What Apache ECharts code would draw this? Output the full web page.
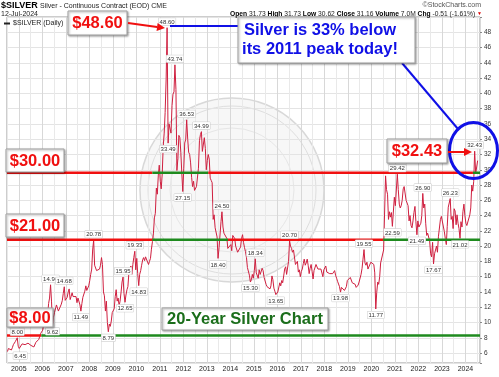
<!DOCTYPE html>
<html>
<head>
<meta charset="utf-8">
<script src="https://cdn.jsdelivr.net/npm/echarts@6/dist/echarts.min.js"></script>
<style>
html, body { margin: 0; padding: 0; background: #fff; }
#main { width: 499px; height: 377px; }
</style>
</head>
<body>
<div id="main"></div>
<script>
// silver closes, two per month (around the 8th and the 23rd), Jul 2004 .. Jul 2024
var halfMonthCloses = [
    // 2004 Jul-Dec
    6.2, 6.6, 6.7, 6.8, 6.4, 6.7, 7.1, 7.3, 7.5, 7.6, 8.0, 6.9,
    // 2005
    6.6, 6.45, 6.8, 7.2, 7.4, 7.2, 7.1, 6.9, 7.1, 7.3, 7.4, 7.1, 7.0, 7.2, 6.9, 6.8, 7.0, 7.4, 7.6, 7.6, 7.8, 8.2, 8.6, 8.8,
    // 2006
    9.0, 9.7, 9.6, 9.5, 10.2, 10.9, 12.5, 13.2, 14.94, 12.8, 9.62, 10.7, 11.3, 11.2, 12.3, 12.3, 11.5, 11.4, 11.6, 12.4, 12.9, 13.8, 14.68, 12.9,
    // 2007
    12.9, 13.3, 14.0, 14.4, 13.0, 13.4, 13.9, 13.4, 13.2, 13.2, 13.4, 12.6, 13.2, 13.0, 12.3, 11.49, 12.5, 13.3, 13.5, 14.1, 14.8, 14.2, 14.3, 14.8,
    // 2008
    15.5, 16.3, 17.0, 19.5, 20.78, 17.5, 17.5, 16.8, 16.6, 16.8, 17.0, 17.5, 18.5, 17.6, 14.0, 13.5, 11.5, 12.8, 10.0, 8.79, 9.8, 9.5, 10.2, 11.3,
    // 2009
    11.2, 11.8, 13.4, 14.3, 12.8, 13.2, 12.2, 12.8, 14.0, 15.3, 15.95, 13.8, 12.65, 13.6, 14.3, 14.7, 16.6, 16.8, 17.4, 16.3, 17.6, 18.5, 19.33, 16.9,
    // 2010
    18.4, 16.4, 14.83, 16.3, 16.8, 17.5, 18.2, 18.5, 18.1, 18.6, 18.5, 18.7, 17.6, 18.0, 18.4, 19.6, 20.6, 21.6, 23.7, 24.3, 27.6, 26.8, 29.3, 30.6,
    // 2011
    28.5, 27.5, 29.5, 33.0, 34.8, 37.5, 41.9, 48.6, 33.49, 36.0, 35.8, 34.8, 38.4, 39.9, 40.2, 43.74, 40.5, 29.9, 31.5, 34.5, 34.2, 32.3, 29.5, 27.15,
    // 2012
    30.2, 33.5, 34.0, 36.53, 34.0, 32.3, 32.0, 30.9, 29.0, 27.8, 28.5, 27.3, 27.5, 27.8, 27.8, 30.2, 33.8, 34.6, 34.99, 32.4, 32.4, 34.2, 32.8, 30.0,
    // 2013
    31.2, 32.0, 31.4, 28.9, 28.6, 28.3, 23.5, 24.1, 22.4, 22.3, 21.2, 18.4, 19.8, 19.6, 23.2, 24.5, 22.5, 21.7, 21.9, 21.9, 21.0, 19.7, 19.5, 19.6,
    // 2014
    20.2, 19.4, 21.4, 21.4, 21.0, 20.0, 19.8, 19.2, 19.1, 19.0, 19.9, 21.0, 21.5, 20.5, 19.8, 19.3, 18.5, 17.2, 17.3, 16.2, 15.3, 15.6, 16.3, 15.8,
    // 2015
    16.8, 18.34, 16.5, 16.6, 15.8, 16.9, 16.3, 16.2, 17.1, 16.8, 15.9, 15.7, 15.0, 14.7, 14.8, 14.6, 14.4, 14.8, 16.1, 15.6, 14.5, 14.1, 13.65, 13.8,
    // 2016
    14.0, 14.2, 15.2, 14.8, 15.5, 15.2, 16.1, 17.0, 17.3, 16.3, 16.2, 18.0, 20.7, 20.0, 19.7, 19.2, 19.5, 19.3, 17.6, 17.6, 18.0, 16.6, 16.9, 16.0,
    // 2017
    16.7, 17.0, 17.7, 18.3, 17.5, 17.8, 18.3, 17.5, 16.4, 17.1, 17.6, 16.7, 15.7, 16.8, 16.9, 17.6, 17.6, 17.0, 17.2, 16.8, 17.0, 17.0, 16.0, 16.9,
    // 2018
    17.0, 17.4, 16.6, 16.5, 16.6, 16.4, 16.5, 16.6, 16.4, 16.4, 16.8, 16.2, 15.8, 15.4, 15.2, 14.7, 13.98, 14.6, 14.6, 14.6, 14.2, 14.3, 14.7, 15.5,
    // 2019
    15.6, 15.7, 15.9, 15.8, 15.2, 15.2, 15.0, 15.0, 14.6, 14.4, 14.9, 15.3, 15.3, 16.3, 17.1, 18.3, 19.55, 17.8, 17.5, 17.9, 17.0, 16.9, 17.0, 17.9,
    // 2020
    18.1, 18.0, 17.6, 16.5, 11.77, 13.9, 15.3, 15.0, 16.0, 17.8, 17.8, 18.0, 19.5, 24.2, 29.2, 27.4, 26.8, 23.5, 24.5, 23.8, 24.4, 22.59, 24.6, 26.4,
    // 2021
    25.3, 25.5, 29.42, 27.4, 25.5, 25.0, 25.3, 26.0, 27.5, 27.8, 27.6, 26.0, 26.0, 25.3, 23.3, 24.0, 22.7, 22.4, 23.3, 24.4, 25.2, 23.2, 21.49, 23.3,
    // 2022
    22.5, 22.6, 23.0, 24.0, 26.9, 25.0, 25.5, 23.0, 21.4, 21.7, 21.6, 20.7, 19.0, 18.6, 20.5, 17.67, 19.0, 18.9, 20.0, 19.2, 21.3, 21.3, 23.5, 23.9,
    // 2023
    23.9, 23.7, 21.9, 21.0, 20.2, 22.6, 25.1, 25.1, 26.23, 23.5, 23.9, 22.3, 24.9, 24.6, 22.8, 24.1, 23.0, 22.3, 21.02, 23.2, 22.5, 24.5, 25.5, 24.0,
    // 2024 Jan-Jul
    23.0, 22.7, 22.5, 22.9, 24.1, 25.0, 28.0, 27.2, 28.5, 32.43, 29.5, 29.5, 31.2
];

// labelled highs / lows: [year, month, half (0 = early, 1 = late), side]
var extremeLabels = [
    [2004, 12, 0, 'top'], [2005, 1, 1, 'bottom'], [2006, 5, 0, 'top'], [2006, 6, 0, 'bottom'],
    [2006, 12, 0, 'top'], [2007, 8, 1, 'bottom'], [2008, 3, 0, 'top'], [2008, 10, 1, 'bottom'],
    [2009, 6, 0, 'top'], [2009, 7, 0, 'bottom'], [2009, 12, 0, 'top'], [2010, 2, 0, 'bottom'],
    [2011, 4, 1, 'top'], [2011, 5, 0, 'bottom'], [2011, 8, 1, 'top'], [2011, 12, 1, 'bottom'],
    [2012, 2, 1, 'top'], [2012, 10, 0, 'top'], [2013, 6, 1, 'bottom'], [2013, 8, 1, 'top'],
    [2014, 11, 0, 'bottom'], [2015, 1, 1, 'top'], [2015, 12, 0, 'bottom'], [2016, 7, 0, 'top'],
    [2018, 9, 0, 'bottom'], [2019, 9, 0, 'top'], [2020, 3, 0, 'bottom'], [2020, 11, 1, 'bottom'],
    [2021, 2, 0, 'top'], [2021, 12, 0, 'bottom'], [2022, 3, 0, 'top'], [2022, 8, 1, 'bottom'],
    [2023, 5, 0, 'top'], [2023, 10, 0, 'bottom'], [2024, 5, 1, 'top']
];

// hand drawn support / resistance lines and where their colour switches
var levelValues = [29.6, 20.85, 8.3];
var levelBreaks = [
    [[2004.5, 'r'], [2010.68, 'g'], [2013.06, 'r'], [2024.32, 'g'], [2024.62]],
    [[2004.5, 'r'], [2010.68, 'g'], [2013.9, 'r'], [2020.5, 'g'], [2024.62]],
    [[2004.5, 'r'], [2005.96, 'g'], [2024.62]]
];

var FONT = '"Liberation Sans", Arial, sans-serif';
var RED = '#f01010';
var GREEN = '#1e8a1e';
var BLUE = '#1010e6';

var chartDom = document.getElementById('main');
var myChart = echarts.init(chartDom);

var xs = halfMonthCloses.map(function (v, i) {
    return 2004 + (6 + Math.floor(i / 2) + (i % 2 ? 0.72 : 0.24)) / 12;
});
var pricePoints = halfMonthCloses.map(function (v, i) { return [xs[i], v]; });

function idxOf(y, m, h) {
    return (y - 2004) * 24 + (m - 1) * 2 + h - 12;
}

var markData = extremeLabels.map(function (e) {
    var i = idxOf(e[0], e[1], e[2]);
    return {
        name: halfMonthCloses[i].toFixed(2),
        coord: [xs[i], halfMonthCloses[i]],
        label: {position: e[3]}
    };
});

var series = [{
    name: '$SILVER (Daily)',
    type: 'line',
    data: pricePoints,
    showSymbol: false,
    lineStyle: {color: '#cf1f3f', width: 1},
    itemStyle: {color: '#cf1f3f'},
    z: 3,
    markPoint: {
        symbol: 'rect',
        symbolSize: 1,
        itemStyle: {color: 'rgba(0,0,0,0)'},
        label: {
            show: true, formatter: '{b}', fontSize: 6, color: '#333', fontFamily: FONT,
            backgroundColor: '#fff', borderColor: '#c8c8c8', borderWidth: 0.5,
            padding: [1, 1, 0, 1], distance: 2
        },
        data: markData
    }
}];

levelValues.forEach(function (lvl, li) {
    var b = levelBreaks[li];
    for (var k = 0; k < b.length - 1; k++) {
        series.push({
            type: 'line',
            data: [[b[k][0], lvl], [b[k + 1][0], lvl]],
            showSymbol: false,
            silent: true,
            lineStyle: {color: b[k][1] === 'r' ? RED : GREEN, width: 2.5},
            z: 4
        });
    }
});

function arrow(x1, y1, x2, y2, color, w) {
    var a = Math.atan2(y2 - y1, x2 - x1), L = 8, H = 4;
    var bx = x2 - L * Math.cos(a), by = y2 - L * Math.sin(a);
    return [
        {type: 'line', z: 100, shape: {x1: x1, y1: y1, x2: bx, y2: by}, style: {stroke: color, lineWidth: w}},
        {type: 'polygon', z: 100, shape: {points: [[x2, y2],
            [bx + H * Math.sin(a), by - H * Math.cos(a)],
            [bx - H * Math.sin(a), by + H * Math.cos(a)]]}, style: {fill: color}}
    ];
}

function box(x, y, w, h, text, color, cx, cy) {
    return [
        {type: 'rect', z: 100, shape: {x: x, y: y, width: w, height: h},
            style: {fill: '#fff', stroke: '#a0a0a0', lineWidth: 1, shadowBlur: 2, shadowOffsetX: 1, shadowOffsetY: 1, shadowColor: 'rgba(0,0,0,0.35)'}},
        {type: 'text', z: 101, style: {text: text, x: cx, y: cy, fill: color, font: 'bold 16.5px ' + FONT,
            align: 'center', verticalAlign: 'middle', textAlign: 'center', textVerticalAlign: 'middle'}}
    ];
}

function txt(x, y, text, font, fill, align) {
    return {type: 'text', z: 100, style: {text: text, x: x, y: y, fill: fill || '#111', font: font + ' ' + FONT,
        align: align || 'left', textAlign: align || 'left', verticalAlign: 'middle', textVerticalAlign: 'middle'}};
}

var graphics = [
    // faint coin watermark
    {type: 'circle', z: 0, shape: {cx: 232, cy: 190, r: 92}, style: {fill: 'rgba(0,0,0,0.03)', stroke: '#d8d8d8', lineWidth: 1.5}},
    {type: 'circle', z: 0, shape: {cx: 232, cy: 190, r: 84}, style: {fill: 'none', stroke: '#dedede', lineWidth: 1}},
    {type: 'circle', z: 0, shape: {cx: 232, cy: 190, r: 62}, style: {fill: 'none', stroke: '#e6e6e6', lineWidth: 1}},
    // header
    txt(1, 6, '$SILVER', 'bold 9px', '#000'),
    txt(40, 6, 'Silver - Continuous Contract (EOD) CME', '7px', '#222'),
    txt(1, 14, '12-Jul-2024', '7px', '#222'),
    txt(481, 5, '\u00a9StockCharts.com', '7px', '#555', 'right'),
    {type: 'text', z: 100, style: {
        x: 482, y: 14, align: 'right', textAlign: 'right', verticalAlign: 'middle', textVerticalAlign: 'middle',
        text: '{b|Open} 31.73 {b|High} 31.73 {b|Low} 30.62 {b|Close} 31.16 {b|Volume} 7.0M {b|Chg} -0.51 (-1.61%) {r|\u25bc}',
        font: '6.7px ' + FONT, fill: '#222',
        rich: {b: {fontWeight: 'bold', fontSize: 6.7, fill: '#000', fontFamily: FONT}, r: {fill: '#d00', fontSize: 5}}
    }},
    // blue call-out
    {type: 'rect', z: 100, shape: {x: 238, y: 17, width: 177, height: 46},
        style: {fill: '#fff', stroke: '#a0a0a0', lineWidth: 1, shadowBlur: 2, shadowOffsetX: 1, shadowOffsetY: 1, shadowColor: 'rgba(0,0,0,0.35)'}},
    {type: 'text', z: 101, style: {text: 'Silver is 33% below\nits 2011 peak today!', x: 320, y: 39.5, fill: BLUE,
        font: 'bold 16.5px ' + FONT, lineHeight: 19, align: 'center', verticalAlign: 'middle', textAlign: 'center', textVerticalAlign: 'middle'}},
    {type: 'line', z: 99, shape: {x1: 170, y1: 26, x2: 238, y2: 26}, style: {stroke: BLUE, lineWidth: 2}},
    {type: 'line', z: 99, shape: {x1: 402, y1: 63, x2: 458, y2: 129}, style: {stroke: BLUE, lineWidth: 2}},
    {type: 'ellipse', z: 99, shape: {cx: 473.5, cy: 150.5, rx: 24, ry: 28}, style: {fill: 'none', stroke: BLUE, lineWidth: 3}}
]
    .concat(box(68, 11, 59, 24, '$48.60', RED, 97.5, 23.5))
    .concat(arrow(128, 23, 165, 28, RED, 2))
    .concat(box(6, 149, 58, 23, '$30.00', RED, 35, 161))
    .concat(box(6, 214, 58, 23, '$21.00', RED, 35, 226))
    .concat(box(7, 308, 46, 19, '$8.00', RED, 30, 318))
    .concat(box(387, 139, 60, 24, '$32.43', RED, 417, 151.5))
    .concat(arrow(448, 152, 472, 152, RED, 2))
    .concat(box(162, 308, 166, 22, '20-Year Silver Chart', '#1b6e1b', 245, 319.5));

var option = {
    animation: false,
    backgroundColor: '#fff',
    textStyle: {fontFamily: FONT},
    grid: {left: 7, right: 19, top: 17, bottom: 14, show: true, borderColor: '#9a9a9a', borderWidth: 1},
    legend: {
        left: 2, top: 18, itemWidth: 6, itemHeight: 2, itemGap: 4, icon: 'rect', padding: 2,
        textStyle: {fontSize: 7, color: '#222', fontFamily: FONT, padding: [0, 0, 0, -2]},
        data: [{name: '$SILVER (Daily)', itemStyle: {color: '#222'}}]
    },
    xAxis: {
        type: 'value', min: 2004.5, max: 2024.62, interval: 0.5,
        axisLine: {show: false}, axisTick: {show: false},
        axisLabel: {
            fontSize: 7, color: '#222', margin: 3, showMinLabel: true, showMaxLabel: false,
            formatter: function (v) {
                return Math.abs(v - Math.round(v)) < 1e-6 ? String(Math.round(v)) : '';
            }
        },
        splitLine: {lineStyle: {color: ['#e9e9e9', '#d8d8d8'], width: 1}}
    },
    yAxis: {
        type: 'value', position: 'right', min: 4.7, max: 50, splitNumber: 23,
        axisLine: {show: false},
        axisTick: {show: true, length: 2, lineStyle: {color: '#888'}},
        axisLabel: {
            fontSize: 6.5, color: '#333', margin: 4,
            formatter: function (v) {
                var r = Math.round(v);
                return (Math.abs(v - r) < 1e-6 && r % 2 === 0 && r >= 6 && r <= 48) ? String(r) : '';
            }
        },
        splitLine: {lineStyle: {color: '#e4e4e4'}}
    },
    series: series,
    graphic: {elements: graphics}
};

myChart.setOption(option);
</script>
</body>
</html>
